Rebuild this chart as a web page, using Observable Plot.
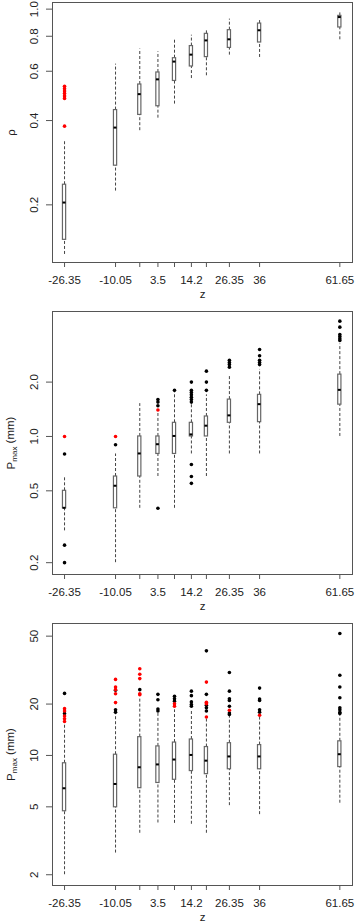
<!DOCTYPE html>
<html><head><meta charset="utf-8">
<script src="https://cdn.jsdelivr.net/npm/d3@7"></script>
<script src="https://cdn.jsdelivr.net/npm/@observablehq/plot@0.6"></script>
<style>
body{margin:0;background:#fff;font-family:"Liberation Sans",Arial,sans-serif}
#c svg{display:block}
</style></head><body><div id="c"></div>
<script>
// categories (z positions) and tick labels
const zVals   = [-26.35, -10.05, -2.3, 3.5, 8.8, 14.2, 19.0, 26.35, 36, 61.65];
const zLabels = ["-26.35", "-10.05", "", "3.5", "", "14.2", "", "26.35", "36", "61.65"];

// Panel 1: rho
const rhoLo  = [0.133, 0.224, 0.368, 0.408, 0.458, 0.565, 0.578, 0.685, 0.672, 0.777];
const rhoQ1  = [0.150, 0.276, 0.419, 0.450, 0.554, 0.624, 0.674, 0.727, 0.760, 0.860];
const rhoMed = [0.203, 0.376, 0.495, 0.559, 0.647, 0.685, 0.770, 0.777, 0.837, 0.933];
const rhoQ3  = [0.236, 0.436, 0.538, 0.594, 0.668, 0.738, 0.816, 0.841, 0.888, 0.946];
const rhoHi  = [0.337, 0.636, 0.720, 0.704, 0.775, 0.807, 0.846, 0.921, 0.910, 0.976];
const rhoOutBlack = [[], [], [], [], [], [], [], [], [], []];
const rhoOutRed   = [[0.53, 0.52, 0.51, 0.50, 0.49, 0.48, 0.382], [], [], [], [], [], [], [], [], []];
const rhoTicks = [0.2, 0.4, 0.6, 0.8, 1.0];

// Panel 2: Pmax (first)
const pALo  = [0.30, 0.20, 0.40, 0.60, 0.40, 0.80, 0.60, 0.80, 0.80, 1.00];
const pAQ1  = [0.40, 0.40, 0.60, 0.80, 0.80, 1.00, 1.00, 1.19, 1.20, 1.50];
const pAMed = [0.40, 0.53, 0.80, 0.90, 1.00, 1.02, 1.14, 1.30, 1.50, 1.80];
const pAQ3  = [0.50, 0.60, 1.00, 1.00, 1.19, 1.19, 1.29, 1.60, 1.70, 2.20];
const pAHi  = [0.60, 0.80, 1.52, 1.34, 1.75, 1.50, 1.70, 2.20, 2.35, 3.25];
const pAOutBlack = [[0.8, 0.25, 0.2], [0.9], [], [1.6, 1.55, 1.48, 0.4], [1.8],
  [2.0, 1.8, 1.75, 1.7, 1.65, 1.6, 1.55, 0.7, 0.6, 0.55], [2.3, 2.0, 1.8],
  [2.64, 2.57, 2.5, 2.42], [3.03, 2.8, 2.64, 2.57, 2.5], [4.35, 4.03, 3.67, 3.58, 3.48, 3.4]];
const pAOutRed = [[1.0], [1.0], [], [1.4], [], [], [], [], [], []];
const pATicks = [0.2, 0.5, 1.0, 2.0];

// Panel 3: Pmax (second)
const pBLo  = [2.0, 2.68, 3.5, 4.02, 4.0, 3.95, 3.5, 5.08, 4.5, 5.25];
const pBQ1  = [4.71, 4.97, 6.43, 6.9, 7.2, 8.1, 7.77, 8.3, 8.3, 8.55];
const pBMed = [6.38, 6.76, 8.47, 8.8, 9.4, 10.0, 9.26, 9.8, 9.8, 10.1];
const pBQ3  = [9.0, 10.1, 12.8, 11.3, 11.9, 12.4, 11.2, 11.8, 11.5, 12.1];
const pBHi  = [15.3, 17.6, 21.6, 18.0, 18.5, 18.5, 16.5, 17.3, 16.8, 17.5];
const pBOutBlack = [[23.1, 17.6], [24.1, 18.5, 17.9], [24.3], [22.8, 21.2, 18.7, 18.2],
  [22.2, 21.5, 20.8], [23.8, 22.4, 20.6, 19.9, 19.4], [41.0, 22.8, 19.7, 19.0, 18.2],
  [30.6, 23.8, 21.5, 21.0, 19.4, 17.7, 17.4], [24.8, 21.4, 21.0, 18.5, 17.9],
  [51.8, 29.5, 25.2, 21.8, 19.0, 18.5, 17.9, 17.6]];
const pBOutRed = [[18.8, 18.2, 17.0, 16.4, 15.8], [27.9, 25.2, 24.3, 23.0, 20.4], [32.2, 29.9, 28.2, 23.0, 22.7],
  [], [20.1, 19.4], [], [26.9, 20.5, 20.1, 16.8], [18.4], [17.2], []];
const pBTicks = [2, 5, 10, 20, 50];

const labelMap = new Map(zVals.map((z, i) => [z, zLabels[i]]));
const FONT = "Liberation Sans, Arial, Helvetica, sans-serif";

function panel({lo, q1, med, q3, hi, outBlack, outRed, domain, ticks, label, height, mt, mb, sub}) {
  const boxes = zVals.map((z, i) => ({z, lo: lo[i], q1: q1[i], med: med[i], q3: q3[i], hi: hi[i]}));
  const outs = [];
  zVals.forEach((z, i) => {
    outBlack[i].forEach(v => outs.push({z, v, c: "black"}));
    outRed[i].forEach(v => outs.push({z, v, c: "red"}));
  });
  const fmt = d => d.toFixed(ticks[0] < 1 ? 1 : 0);
  const svg = Plot.plot({
    width: 357, height, marginLeft: 52, marginRight: 5, marginTop: mt, marginBottom: mb,
    style: {fontFamily: FONT, fontSize: "11.5px", color: "#222", background: "#fff"},
    x: {domain: [-30.2, 65.7]},
    y: {type: "log", domain},
    color: {type: "identity"},
    marks: [
      Plot.frame({stroke: "#555"}),
      Plot.axisX({ticks: zVals, tickFormat: d => labelMap.get(d), tickSize: 5, tickPadding: 8,
        stroke: "#555", label: "z", labelAnchor: "center", labelArrow: "none", labelOffset: 35}),
      Plot.axisY({ticks, tickFormat: () => "", tickSize: 6, stroke: "#555",
        label, labelAnchor: "center", labelArrow: "none", labelOffset: 46}),
      Plot.axisY({ticks, tickFormat: fmt, tickSize: 0, tickPadding: 4, tickRotate: -90, dx: -11, label: null}),
      Plot.ruleX(boxes, {x: "z", y1: "lo", y2: "q1", stroke: "#444", strokeDasharray: "3,2"}),
      Plot.ruleX(boxes, {x: "z", y1: "q3", y2: "hi", stroke: "#444", strokeDasharray: "3,2"}),
      Plot.rect(boxes, {x1: "z", x2: "z", y1: "q1", y2: "q3", insetLeft: -1.6, insetRight: -1.6,
        fill: "white", stroke: "#666", strokeWidth: 1.2}),
      Plot.rect(boxes, {x1: "z", x2: "z", y1: "med", y2: "med", insetLeft: -1.5, insetRight: -1.5,
        insetTop: -1, insetBottom: -1, fill: "black"}),
      Plot.dot(outs, {x: "z", y: "v", fill: "c", r: 1.8})
    ]
  });
  if (sub) {
    const t = d3.select(svg).select('g[aria-label="y-axis label"] text');
    t.text(null);
    t.append("tspan").text("P");
    t.append("tspan").attr("font-size", "8px").attr("dy", "0.3em").text("max");
    t.append("tspan").attr("dy", "-0.3em").text(" (mm)");
  }
  return svg;
}

const c = document.getElementById("c");
c.appendChild(panel({lo: rhoLo, q1: rhoQ1, med: rhoMed, q3: rhoQ3, hi: rhoHi, outBlack: rhoOutBlack, outRed: rhoOutRed,
  domain: [0.1245, 1.056], ticks: rhoTicks, label: "ρ", height: 302, mt: 2, mb: 40}));
c.appendChild(panel({lo: pALo, q1: pAQ1, med: pAMed, q3: pAQ3, hi: pAHi, outBlack: pAOutBlack, outRed: pAOutRed,
  domain: [0.172, 4.92], ticks: pATicks, label: "Pmax (mm)", height: 310, mt: 9, mb: 38, sub: true}));
c.appendChild(panel({lo: pBLo, q1: pBQ1, med: pBMed, q3: pBQ3, hi: pBHi, outBlack: pBOutBlack, outRed: pBOutRed,
  domain: [1.73, 59.3], ticks: pBTicks, label: "Pmax (mm)", height: 309, mt: 11, mb: 36, sub: true}));
</script></body></html>
